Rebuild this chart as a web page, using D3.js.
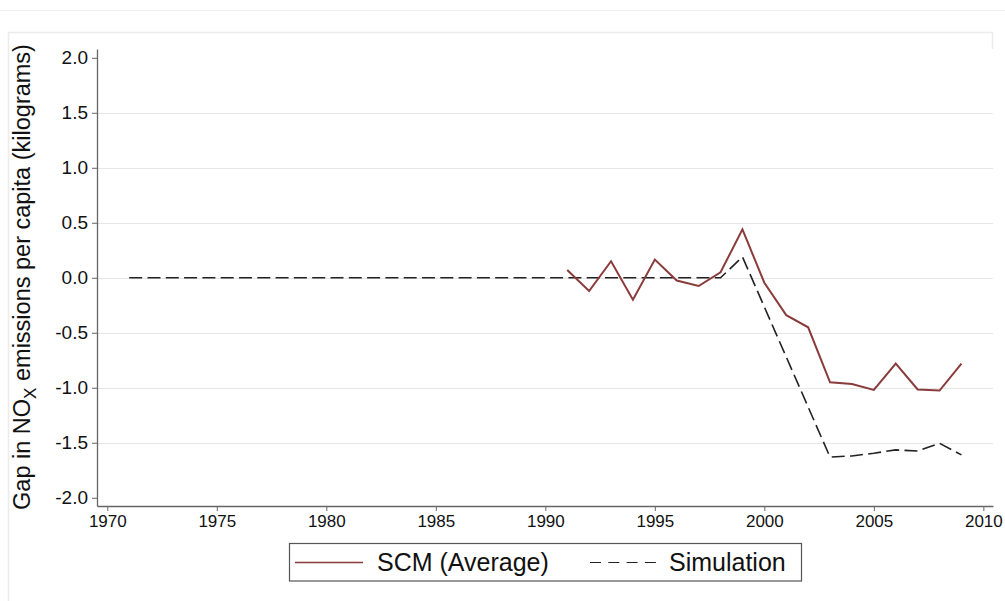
<!DOCTYPE html>
<html><head><meta charset="utf-8">
<script src="https://cdn.jsdelivr.net/npm/d3@7"></script>
<style>body{margin:0;background:#fff}svg{display:block}text{font-family:"Liberation Sans",Arial,sans-serif}</style>
</head><body>
<script>
const scmYears = [1991,1992,1993,1994,1995,1996,1997,1998,1999,2000,2001,2002,2003,2004,2005,2006,2007,2008,2009];
const scmValues = [0.07,-0.12,0.15,-0.20,0.165,-0.025,-0.075,0.05,0.44,-0.045,-0.34,-0.45,-0.95,-0.965,-1.02,-0.78,-1.015,-1.025,-0.78];
const simYears = [1971,1972,1973,1974,1975,1976,1977,1978,1979,1980,1981,1982,1983,1984,1985,1986,1987,1988,1989,1990,1991,1992,1993,1994,1995,1996,1997,1998,1999,2000,2001,2002,2003,2004,2005,2006,2007,2008,2009];
const simValues = [0,0,0,0,0,0,0,0,0,0,0,0,0,0,0,0,0,0,0,0,0,0,0,0,0,0,0,0,0.19,-0.265,-0.72,-1.175,-1.63,-1.62,-1.595,-1.565,-1.575,-1.505,-1.61];
const yTicks = [-2.0,-1.5,-1.0,-0.5,0.0,0.5,1.0,1.5,2.0];
const xTicks = [1970,1975,1980,1985,1990,1995,2000,2005,2010];
const seriesNames = ["SCM (Average)", "Simulation"];

const W = 1005, H = 601;
const svg = d3.select("body").append("svg").attr("width", W).attr("height", H);

// faint outer frame
svg.append("line").attr("x1",0).attr("x2",W).attr("y1",10.5).attr("y2",10.5).attr("stroke","#f0f0f0");
svg.append("path").attr("d","M8.5,601V32.5H992.5V49").attr("fill","none").attr("stroke","#ececec").attr("stroke-width",1.5);

const x = d3.scaleLinear().domain([1969.53, 2010.44]).range([97, 993]);
const y = d3.scaleLinear().domain([-2.075, 2.08]).range([506, 49]);

// gridlines
svg.append("g").selectAll("line").data(yTicks.filter(t => Math.abs(t) < 2))
  .join("line").attr("x1",97).attr("x2",993)
  .attr("y1",d=>Math.round(y(d))+0.5).attr("y2",d=>Math.round(y(d))+0.5)
  .attr("stroke","#e6e6e6").attr("stroke-width",1.2);

// axes
const yAxis = d3.axisLeft(y).tickValues(yTicks).tickSize(5).tickPadding(4).tickSizeOuter(0);
const gy = svg.append("g").attr("transform","translate(97,0)").call(yAxis);
gy.select(".domain").attr("stroke","#666").attr("stroke-width",1.3);
gy.selectAll(".tick line").attr("stroke","#666");
gy.selectAll(".tick text").attr("font-size",19).attr("fill","#111")
  .text(d => d < 0 ? "-" + d3.format(".1f")(-d) : d3.format(".1f")(d));

const xAxis = d3.axisBottom(x).tickValues(xTicks).tickFormat(d3.format("d")).tickSize(5).tickPadding(4).tickSizeOuter(0);
const gx = svg.append("g").attr("transform","translate(0,506)").call(xAxis);
gx.select(".domain").attr("stroke","#666").attr("stroke-width",1.3);
gx.selectAll(".tick line").attr("stroke","#666");
gx.selectAll(".tick text").attr("font-size",17).attr("fill","#111");

// y title
const t = svg.append("text").attr("transform","translate(30,277) rotate(-90)")
  .attr("text-anchor","middle").attr("font-size",23.5).attr("fill","#111");
t.append("tspan").text("Gap in NO");
t.append("tspan").attr("font-size",17).attr("dy",6).text("X");
t.append("tspan").attr("dy",-6).text(" emissions per capita (kilograms)");

// lines
const line = d3.line().x(d=>x(d[0])).y(d=>y(d[1]));
svg.append("path").datum(simYears.map((yr,i)=>[yr,simValues[i]]))
  .attr("d",line).attr("fill","none").attr("stroke","#222").attr("stroke-width",1.6).attr("stroke-dasharray","13,5.3");
svg.append("path").datum(scmYears.map((yr,i)=>[yr,scmValues[i]]))
  .attr("d",line).attr("fill","none").attr("stroke","#8a3b3b").attr("stroke-width",2);

// legend
const lg = svg.append("g");
lg.append("rect").attr("x",289.5).attr("y",543.5).attr("width",512).attr("height",37.5)
  .attr("fill","#fff").attr("stroke","#555").attr("stroke-width",1.2);
lg.append("line").attr("x1",295).attr("x2",363).attr("y1",562.5).attr("y2",562.5).attr("stroke","#8a3b3b").attr("stroke-width",1.5);
lg.append("text").attr("x",377).attr("y",571).attr("font-size",25).attr("fill","#111").text(seriesNames[0]);
lg.append("line").attr("x1",590).attr("x2",660).attr("y1",562.5).attr("y2",562.5).attr("stroke","#222").attr("stroke-width",1.2).attr("stroke-dasharray","11,7.3");
lg.append("text").attr("x",669).attr("y",571).attr("font-size",25).attr("fill","#111").text(seriesNames[1]);
</script>
</body></html>
